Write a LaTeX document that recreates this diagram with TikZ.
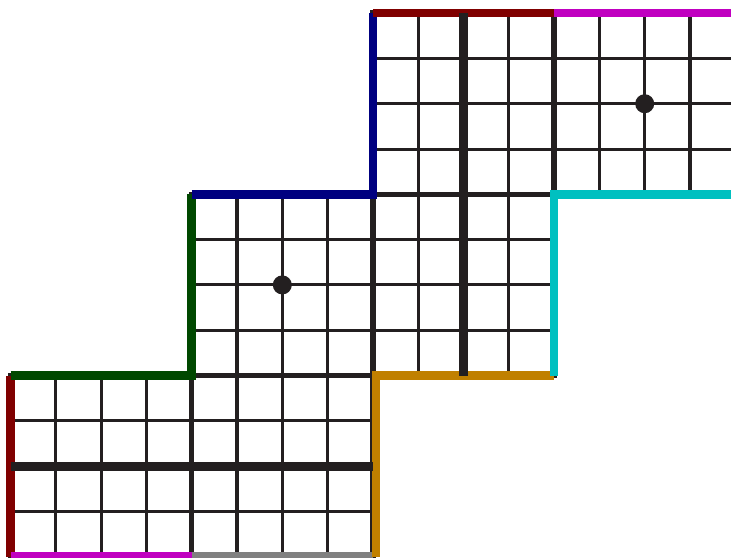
\documentclass[tikz,border=0pt]{standalone}
\usepackage{tikz}
\definecolor{ink}{RGB}{35,31,32}
\definecolor{edgered}{RGB}{128,0,0}
\definecolor{edgemagenta}{RGB}{192,0,192}
\definecolor{edgeblue}{RGB}{0,0,128}
\definecolor{edgegreen}{RGB}{0,72,0}
\definecolor{edgeorange}{RGB}{192,128,0}
\definecolor{edgecyan}{RGB}{0,192,192}
\definecolor{edgegray}{RGB}{128,128,128}

\begin{document}
\begin{tikzpicture}[x=1cm,y=1cm,
		cellgrid/.style={line width=1.9pt, color=ink},
		seam/.style={line width=3.4pt, color=ink},
		cutline/.style={line width=5.7pt, color=ink},
		edge/.style={line width=5.4pt, line join=miter}]
			\useasboundingbox (-0.232,-0.02) rectangle (15.905,12.29);
			\draw[cellgrid] (0,0) grid (8,4);
			\draw[cellgrid] (4,4) grid (12,8);
			\draw[cellgrid] (8,8) grid (16,12);
			\draw[seam] (0,0) rectangle (8,4) (4,0) -- (4,4);
			\draw[seam] (4,4) rectangle (12,8) (8,4) -- (8,8);
			\draw[seam] (8,8) rectangle (16,12) (12,8) -- (12,12);
			\draw[edge, edgered] (0,0) -- (0,4);
			\draw[edge, edgegreen] (0,4) -- (4,4) -- (4,8);
			\draw[edge, edgeblue] (4,8) -- (8,8) -- (8,12);
			\draw[edge, edgered] (8,12) -- (12,12);
			\draw[edge, edgemagenta] (12,12) -- (16,12);
			\draw[edge, edgemagenta] (0,0) -- (4,0);
			\draw[edge, edgegray] (4,0) -- (8,0);
			\draw[edge, edgeorange] (8.07,0) -- (8.07,4) -- (12,4);
			\draw[edge, edgecyan] (12,4) -- (12,8) -- (16,8);
			\draw[cutline] (0,2) -- (8,2);
			\draw[cutline] (10,4) -- (10,12);
			\fill[ink] (6,6) circle(0.21);
			\fill[ink] (14,10) circle(0.21);
		\end{tikzpicture}
\end{document}
